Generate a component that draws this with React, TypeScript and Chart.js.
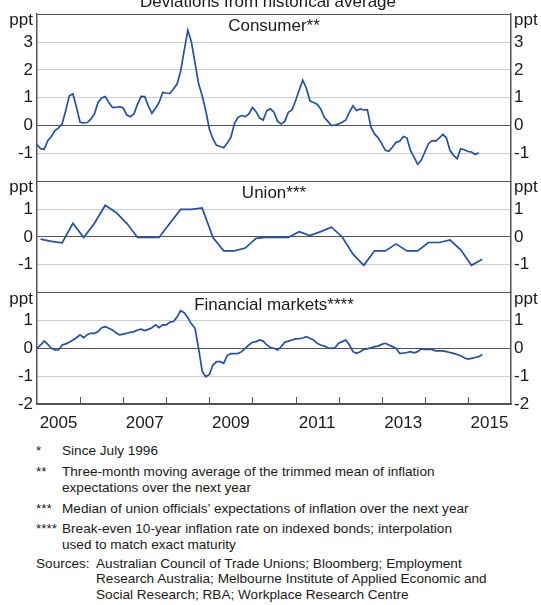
import React, { useEffect, useRef } from 'react';
import { Chart, registerables } from 'chart.js';

Chart.register(...registerables);

// ---------- DATA ----------
const chartTitle = 'Deviations from historical average';
const panelTitles = ['Consumer**', 'Union***', 'Financial markets****'];
const startYear = 2005; // first observation: January 2005
const xMin = 2005;
const xMax = 2016;
const xLabelYears = [2005, 2007, 2009, 2011, 2013, 2015];
const yearTickMarks = [2006, 2007, 2008, 2009, 2010, 2011, 2012, 2013, 2014, 2015];

// Monthly, from January 2005
const consumerValues = [
  -0.68, -0.83, -0.85, -0.54, -0.39, -0.18, -0.08, 0.06, 0.54, 1.07, 1.14, 0.65,
  0.12, 0.10, 0.11, 0.23, 0.42, 0.83, 0.99, 1.04, 0.83, 0.65, 0.65, 0.68,
  0.63, 0.38, 0.32, 0.42, 0.77, 1.05, 1.04, 0.71, 0.44, 0.62, 0.83, 1.19,
  1.17, 1.16, 1.31, 1.49, 1.95, 2.70, 3.42, 3.00, 2.25, 1.50, 1.07, 0.54,
  -0.12, -0.48, -0.71, -0.75, -0.80, -0.63, -0.42, 0.08, 0.30, 0.36, 0.32, 0.42,
  0.65, 0.50, 0.27, 0.20, 0.54, 0.60, 0.48, 0.15, 0.06, 0.15, 0.48, 0.56,
  0.89, 1.27, 1.63, 1.35, 0.89, 0.83, 0.77, 0.60, 0.30, 0.15, 0.00, 0.02,
  0.06, 0.12, 0.20, 0.48, 0.71, 0.54, 0.60, 0.56, 0.57, -0.06, -0.30, -0.44,
  -0.65, -0.89, -0.92, -0.77, -0.60, -0.56, -0.39, -0.44, -0.89, -1.13, -1.39, -1.25,
  -0.95, -0.65, -0.54, -0.56, -0.45, -0.32, -0.44, -0.89, -1.07, -1.19, -0.83, -0.87,
  -0.93, -0.95, -1.04, -0.98,
];

// Quarterly, plotted mid-quarter, from Q1 2005
const unionValues = [
  -0.08, -0.16, -0.21, 0.49, -0.02, 0.49, 1.14, 0.88, 0.49, -0.02,
  -0.02, -0.02, 0.49, 0.99, 0.99, 1.04, -0.02, -0.50, -0.50, -0.40,
  -0.05, -0.01, -0.02, -0.02, 0.19, 0.05, 0.19, 0.35, 0.00, -0.62,
  -1.02, -0.50, -0.50, -0.25, -0.50, -0.50, -0.20, -0.20, -0.11, -0.46,
  -1.02, -0.80,
];

// Monthly, from January 2005
const financialValues = [
  0.00, 0.12, 0.26, 0.14, 0.00, -0.06, -0.06, 0.12, 0.16, 0.22, 0.30, 0.38,
  0.48, 0.38, 0.49, 0.54, 0.54, 0.60, 0.74, 0.78, 0.72, 0.66, 0.56, 0.48,
  0.51, 0.54, 0.57, 0.60, 0.66, 0.69, 0.64, 0.68, 0.74, 0.84, 0.74, 0.84,
  0.84, 0.94, 0.96, 1.12, 1.35, 1.28, 1.10, 0.88, 0.72, 0.00, -0.82, -1.02,
  -0.94, -0.60, -0.48, -0.48, -0.54, -0.25, -0.19, -0.19, -0.18, -0.12, 0.00, 0.12,
  0.22, 0.24, 0.30, 0.26, 0.12, 0.03, 0.00, -0.06, 0.06, 0.22, 0.26, 0.30,
  0.34, 0.35, 0.37, 0.42, 0.36, 0.30, 0.18, 0.12, 0.08, 0.02, 0.00, 0.02,
  0.18, 0.24, 0.30, 0.12, -0.12, -0.18, -0.12, -0.04, -0.02, 0.02, 0.06, 0.08,
  0.14, 0.18, 0.12, 0.06, 0.00, -0.18, -0.17, -0.15, -0.12, -0.16, -0.12, -0.02,
  -0.04, -0.04, -0.04, -0.09, -0.09, -0.09, -0.12, -0.15, -0.18, -0.22, -0.27, -0.34,
  -0.39, -0.36, -0.33, -0.30, -0.22,
];

const consumerTickLabels = [-1, 0, 1, 2, 3];
const unionTickLabels = [-1, 0, 1];
const financialTickLabels = [-2, -1, 0, 1];

const footnotes = [
  { mark: '*', lines: ['Since July 1996'] },
  { mark: '**', lines: ['Three-month moving average of the trimmed mean of inflation', 'expectations over the next year'] },
  { mark: '***', lines: ['Median of union officials\u2019 expectations of inflation over the next year'] },
  { mark: '****', lines: ['Break-even 10-year inflation rate on indexed bonds; interpolation', 'used to match exact maturity'] },
  { mark: 'Sources:', lines: ['Australian Council of Trade Unions; Bloomberg; Employment', 'Research Australia; Melbourne Institute of Applied Economic and', 'Social Research; RBA; Workplace Research Centre'] },
];

// ---------- STYLE ----------
const FONT = '"Liberation Sans", Arial, Helvetica, sans-serif';
const TEXT = '#1a1a1a';
const LINE = '#2350a5';
const GRID = '#cdcdcd';
const AXIS = '#555555';
const CANVAS_W = 541;
const CANVAS_H = 440;
const PLOT_BOTTOM = 404;

const panels = [
  { key: 'C', min: -2, max: 4, weight: 6, labels: consumerTickLabels, title: panelTitles[0] },
  { key: 'U', min: -2, max: 2, weight: 4, labels: unionTickLabels, title: panelTitles[1] },
  { key: 'F', min: -2, max: 2, weight: 4, labels: financialTickLabels, title: panelTitles[2] },
];

function yScale(p: any, side: 'left' | 'right') {
  return {
    type: 'linear',
    position: side,
    stack: side,
    stackWeight: p.weight,
    min: p.min,
    max: p.max,
    afterFit: (axis: any) => {
      axis.width = side === 'left' ? 37 : 30;
    },
    ticks: {
      stepSize: 1,
      autoSkip: false,
      padding: side === 'left' ? 4 : 3,
      color: TEXT,
      font: { family: FONT, size: 17 },
      callback: (v: any) => (p.labels.includes(v) ? String(v) : ''),
    },
    grid: {
      display: side === 'left',
      drawTicks: false,
      lineWidth: 1,
      color: (ctx: any) => {
        const v = ctx.tick ? ctx.tick.value : null;
        return v === 0 || v === p.min || v === p.max ? AXIS : GRID;
      },
    },
    border: { display: true, color: AXIS, width: 1.5 },
  };
}

const textPlugin = {
  id: 'panelText',
  afterDraw(chart: any) {
    const { ctx, chartArea } = chart;
    ctx.save();
    ctx.fillStyle = TEXT;
    ctx.font = `17px ${FONT}`;
    ctx.textBaseline = 'alphabetic';
    ctx.textAlign = 'center';
    ctx.fillText(chartTitle, 268, 7);
    panels.forEach((p) => {
      const s = chart.scales['y' + p.key + 'L'];
      const top = s.top;
      ctx.textAlign = 'center';
      ctx.fillText(p.title, (chartArea.left + chartArea.right) / 2, top + 17);
      ctx.textAlign = 'right';
      ctx.fillText('ppt', chartArea.left - 4, top + 11);
      ctx.textAlign = 'left';
      ctx.fillText('ppt', chartArea.right + 3, top + 11);
    });
    // year tick marks along the bottom axis, pointing into the plot
    const xs = chart.scales.x;
    ctx.strokeStyle = AXIS;
    ctx.lineWidth = 1;
    yearTickMarks.forEach((yr) => {
      const x = Math.round(xs.getPixelForValue(yr)) + 0.5;
      ctx.beginPath();
      ctx.moveTo(x, chartArea.bottom);
      ctx.lineTo(x, chartArea.bottom - 7);
      ctx.stroke();
    });
    ctx.restore();
  },
};

export default function App() {
  const ref = useRef<HTMLCanvasElement>(null);

  useEffect(() => {
    const canvas = ref.current;
    if (!canvas) return;
    const lineStyle = {
      borderColor: LINE,
      borderWidth: 1.7,
      pointRadius: 0,
      tension: 0,
      fill: false,
    };
    const chart = new Chart(canvas, {
      type: 'line',
      data: {
        datasets: [
          {
            ...lineStyle,
            label: panelTitles[0],
            yAxisID: 'yCL',
            data: consumerValues.map((v, i) => ({ x: startYear + i / 12, y: v })),
          },
          {
            ...lineStyle,
            label: panelTitles[1],
            yAxisID: 'yUL',
            data: unionValues.map((v, i) => ({ x: startYear + (3 * i + 1) / 12, y: v })),
          },
          {
            ...lineStyle,
            label: panelTitles[2],
            yAxisID: 'yFL',
            data: financialValues.map((v, i) => ({ x: startYear + i / 12, y: v })),
          },
        ],
      },
      options: {
        animation: false,
        responsive: false,
        maintainAspectRatio: false,
        layout: { padding: { top: 13, left: 0, right: 0, bottom: 0 } },
        plugins: {
          legend: { display: false },
          title: { display: false },
          tooltip: { enabled: false },
        },
        scales: {
          yFL: yScale(panels[2], 'left'),
          yUL: yScale(panels[1], 'left'),
          yCL: yScale(panels[0], 'left'),
          yCR: yScale(panels[0], 'right'),
          yUR: yScale(panels[1], 'right'),
          yFR: yScale(panels[2], 'right'),
          x: {
            type: 'linear',
            position: 'bottom',
            min: xMin,
            max: xMax,
            afterBuildTicks: (axis: any) => {
              axis.ticks = xLabelYears.map((y) => ({ value: y + 0.5 }));
            },
            afterFit: (axis: any) => {
              axis.height = CANVAS_H - PLOT_BOTTOM;
            },
            ticks: {
              color: TEXT,
              font: { family: FONT, size: 17 },
              padding: 9,
              maxRotation: 0,
              autoSkip: false,
              callback: (v: any) => String(Math.floor(v)),
            },
            grid: { display: false, drawTicks: false },
            border: { display: true, color: AXIS, width: 1.5 },
          },
        } as any,
      },
      plugins: [textPlugin],
    } as any);
    return () => chart.destroy();
  }, []);

  return (
    <div
      style={{
        position: 'absolute',
        left: 0,
        top: 0,
        width: CANVAS_W,
        height: 605,
        background: '#ffffff',
        fontFamily: FONT,
        color: TEXT,
        overflow: 'hidden',
      }}
    >
      <canvas
        ref={ref}
        width={CANVAS_W}
        height={CANVAS_H}
        style={{ position: 'absolute', left: 0, top: 0, width: CANVAS_W, height: CANVAS_H }}
      />
      {footnotes.map((n, i) => {
        const tops = [442.5, 464, 500.5, 521, 555.5];
        const isSource = n.mark === 'Sources:';
        return (
          <div
            key={i}
            style={{
              position: 'absolute',
              left: 36,
              top: tops[i],
              fontSize: 13.6,
              lineHeight: '15.5px',
              whiteSpace: 'nowrap',
            }}
          >
            <span style={{ position: 'absolute', left: 0, top: 0 }}>{n.mark}</span>
            <div style={{ marginLeft: isSource ? 60 : 26 }}>
              {n.lines.map((l, j) => (
                <div key={j}>{l}</div>
              ))}
            </div>
          </div>
        );
      })}
    </div>
  );
}
